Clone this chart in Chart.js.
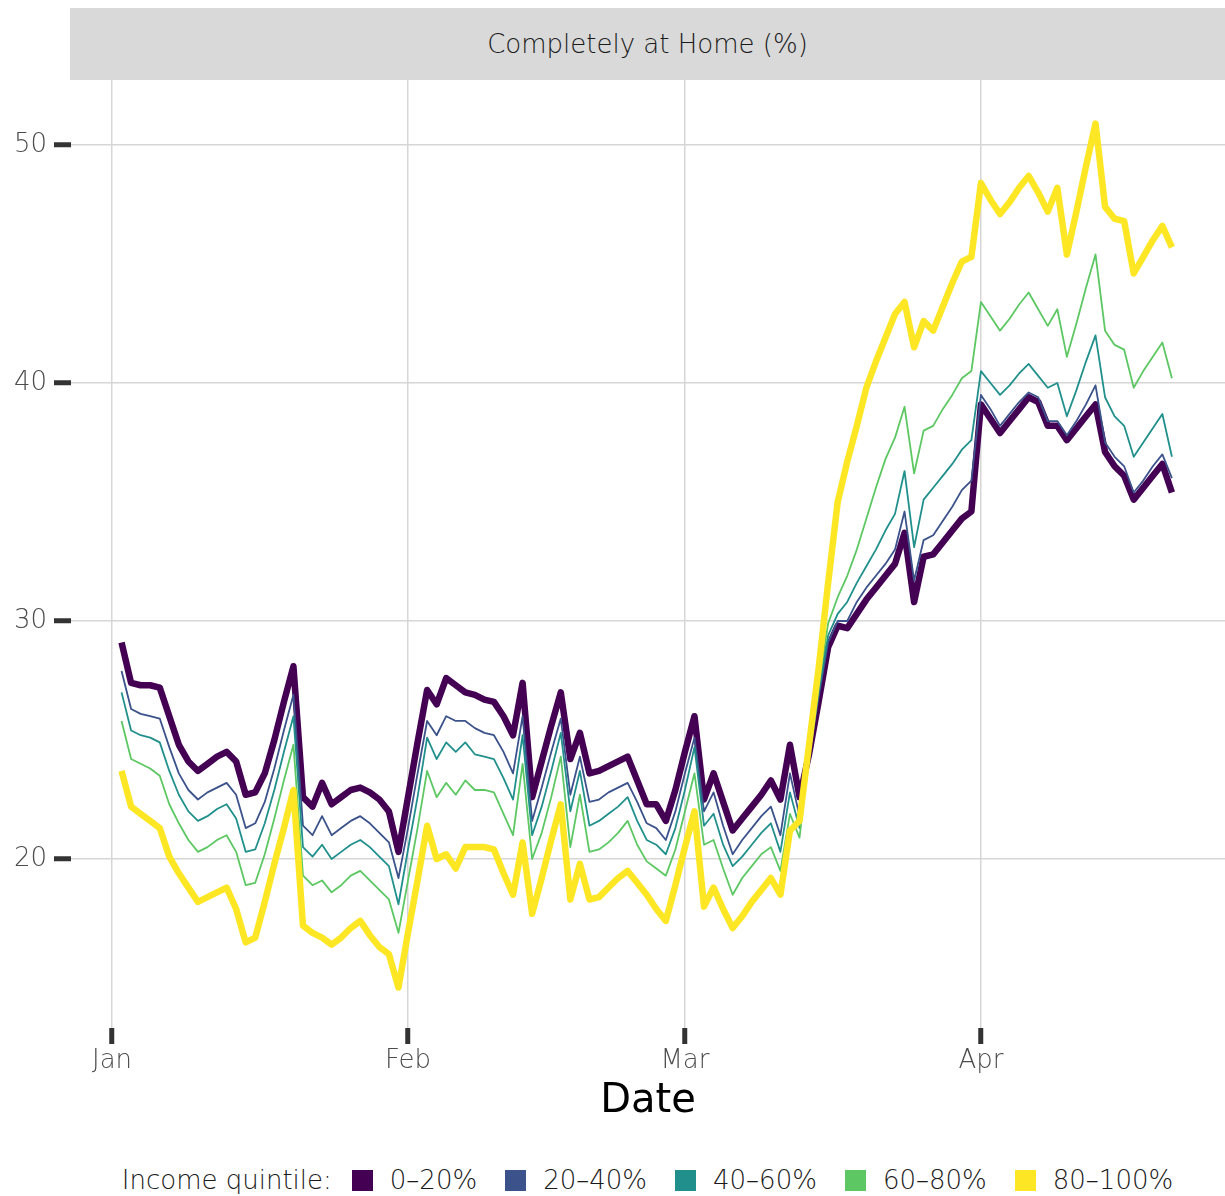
<!DOCTYPE html>
<html>
<head>
<meta charset="utf-8">
<title>Completely at Home (%)</title>
<script src="https://cdn.jsdelivr.net/npm/chart.js@4.4.0/dist/chart.umd.min.js"></script>
<style>
  body { margin: 0; width: 1225px; height: 1196px; background: #fff; position: relative; overflow: hidden;
         font-family: 'DejaVu Sans', sans-serif; }
  #strip { position: absolute; left: 70px; top: 8px; width: 1155px; height: 72px; background: #d9d9d9;
           color: #1a1a1a; font-size: 26px; font-weight: 300; line-height: 72px; text-align: center; }
  #wrap { position: absolute; left: 0; top: 80px; width: 1225px; height: 1050px; }
  #legend { position: absolute; left: 70px; top: 1164px; width: 1155px; height: 32px; display: flex;
            justify-content: center; align-items: center; font-size: 26px; font-weight: 300; color: #1a1a1a; }
  #legend .key { width: 21px; height: 21px; margin: 0 17px 0 0; }
  #legend .lab { margin-right: 28px; }
  #legend .lab:last-child { margin-right: 0; }
</style>
</head>
<body>
<div id="strip">Completely at Home (%)</div>
<div id="wrap"><canvas id="cHome" width="1225" height="1050"></canvas></div>
<div id="legend"></div>

<script>
// daily share of devices completely at home, 2020-01-02 .. 2020-04-21
const seriesNames = ['0–20%', '20–40%', '40–60%', '60–80%', '80–100%']
const seriesColors = ['#440154', '#3b528b', '#21908c', '#5dc863', '#fde725']
const monthLabels = ['Jan', 'Feb', 'Mar', 'Apr']
const monthStarts = [0, 31, 60, 91]   // day of year, 0 = Jan 1
const yTicks = [20, 30, 40, 50]
const firstDay = 1                    // Jan 2

const q1 = [
  29.1, 27.4, 27.3, 27.3, 27.2, 26.0, 24.8, 24.1, 23.7, 24.0,
  24.3, 24.5, 24.1, 22.7, 22.8, 23.6, 25.0, 26.6, 28.1, 22.6,
  22.2, 23.2, 22.3, 22.6, 22.9, 23.0, 22.8, 22.5, 22.0, 20.3,
  22.6, 24.9, 27.1, 26.5, 27.6, 27.3, 27.0, 26.9, 26.7, 26.6,
  26.0, 25.2, 27.4, 22.6, 24.1, 25.6, 27.0, 24.2, 25.3, 23.6,
  23.7, 23.9, 24.1, 24.3, 23.3, 22.3, 22.3, 21.6, 22.9, 24.5,
  26.0, 22.5, 23.6, 22.4, 21.2, 21.7, 22.2, 22.7, 23.3, 22.5,
  24.8, 22.6, 24.4, 26.6, 28.9, 29.8, 29.7, 30.3, 30.9, 31.4,
  31.9, 32.4, 33.7, 30.8, 32.7, 32.8, 33.3, 33.8, 34.3, 34.6,
  39.1, 38.5, 37.9, 38.4, 38.9, 39.4, 39.2, 38.2, 38.2, 37.6,
  38.1, 38.6, 39.1, 37.1, 36.5, 36.1, 35.1, 35.6, 36.1, 36.6, 35.4
]
const q2 = [
  27.9, 26.3, 26.1, 26.0, 25.9, 24.7, 23.6, 22.9, 22.5, 22.8,
  23.0, 23.2, 22.7, 21.3, 21.5, 22.4, 23.8, 25.4, 26.9, 21.4,
  21.0, 21.8, 21.0, 21.3, 21.6, 21.8, 21.5, 21.1, 20.7, 19.2,
  21.3, 23.6, 25.8, 25.2, 26.0, 25.8, 25.8, 25.5, 25.3, 25.2,
  24.5, 23.6, 26.0, 21.6, 23.0, 24.5, 25.9, 22.7, 24.3, 22.4,
  22.5, 22.8, 23.0, 23.2, 22.4, 21.5, 21.3, 20.8, 22.0, 23.6,
  25.1, 22.0, 22.8, 21.4, 20.2, 20.8, 21.3, 21.8, 22.2, 21.0,
  23.6, 21.8, 24.3, 26.8, 29.1, 30.0, 30.0, 30.8, 31.4, 31.9,
  32.4, 33.0, 34.6, 31.7, 33.4, 33.6, 34.2, 34.8, 35.5, 35.9,
  39.5, 38.9, 38.2, 38.7, 39.2, 39.6, 39.4, 38.4, 38.4, 37.8,
  38.4, 39.1, 39.9, 37.5, 36.9, 36.5, 35.4, 35.9, 36.5, 37.0, 36.0
]
const q3 = [
  27.0, 25.4, 25.2, 25.1, 24.9, 23.7, 22.7, 22.0, 21.6, 21.8,
  22.1, 22.3, 21.7, 20.3, 20.4, 21.5, 22.9, 24.5, 26.0, 20.5,
  20.1, 20.6, 20.0, 20.3, 20.6, 20.8, 20.5, 20.1, 19.7, 18.1,
  20.4, 22.6, 25.1, 24.2, 24.9, 24.5, 24.9, 24.4, 24.3, 24.2,
  23.4, 22.5, 25.2, 21.0, 22.2, 23.7, 25.3, 22.0, 23.7, 21.4,
  21.6, 21.9, 22.2, 22.6, 21.6, 20.8, 20.6, 20.2, 21.3, 22.9,
  24.7, 21.4, 21.9, 20.6, 19.7, 20.1, 20.6, 21.1, 21.5, 20.3,
  22.8, 21.3, 24.3, 27.0, 29.4, 30.3, 30.8, 31.6, 32.3, 33.0,
  33.8, 34.5, 36.3, 33.1, 35.1, 35.6, 36.1, 36.6, 37.2, 37.6,
  40.5, 40.0, 39.5, 39.9, 40.4, 40.8, 40.3, 39.8, 40.0, 38.6,
  39.7, 40.9, 42.0, 39.4, 38.6, 38.2, 36.9, 37.5, 38.1, 38.7, 36.9
]
const q4 = [
  25.8, 24.2, 24.0, 23.8, 23.5, 22.3, 21.5, 20.8, 20.3, 20.5,
  20.8, 21.0, 20.3, 18.9, 19.0, 20.2, 21.7, 23.3, 24.8, 19.3,
  18.9, 19.1, 18.6, 18.9, 19.3, 19.5, 19.1, 18.7, 18.3, 16.9,
  19.1, 21.3, 23.7, 22.6, 23.2, 22.7, 23.3, 22.9, 22.9, 22.8,
  21.9, 21.0, 24.0, 20.0, 21.1, 22.6, 24.3, 20.5, 22.7, 20.3,
  20.4, 20.7, 21.1, 21.6, 20.6, 19.9, 19.6, 19.3, 20.4, 22.0,
  23.6, 20.6, 20.8, 19.6, 18.5, 19.2, 19.7, 20.2, 20.5, 19.5,
  21.9, 20.9, 24.4, 27.3, 29.9, 31.0, 31.9, 33.0, 34.3, 35.6,
  36.8, 37.7, 39.0, 36.2, 38.0, 38.2, 38.9, 39.5, 40.2, 40.5,
  43.4, 42.8, 42.2, 42.7, 43.3, 43.8, 43.1, 42.4, 43.1, 41.1,
  42.5, 44.0, 45.4, 42.2, 41.6, 41.4, 39.8, 40.5, 41.1, 41.7, 40.2
]
const q5 = [
  23.7, 22.2, 21.9, 21.6, 21.3, 20.1, 19.4, 18.8, 18.2, 18.4,
  18.6, 18.8, 17.9, 16.5, 16.7, 18.2, 19.8, 21.3, 22.9, 17.2,
  16.9, 16.7, 16.4, 16.7, 17.1, 17.4, 16.8, 16.3, 16.0, 14.6,
  16.9, 19.1, 21.4, 20.0, 20.2, 19.6, 20.5, 20.5, 20.5, 20.4,
  19.4, 18.5, 20.7, 17.7, 19.2, 20.8, 22.3, 18.3, 19.8, 18.3,
  18.4, 18.8, 19.2, 19.5, 19.0, 18.5, 17.9, 17.4, 18.9, 20.5,
  22.0, 18.0, 18.8, 17.9, 17.1, 17.6, 18.2, 18.7, 19.2, 18.5,
  21.2, 21.6, 24.8, 28.0, 31.6, 35.0, 36.7, 38.2, 39.8, 40.9,
  41.9, 42.9, 43.4, 41.5, 42.6, 42.2, 43.2, 44.2, 45.1, 45.3,
  48.4, 47.7, 47.1, 47.6, 48.2, 48.7, 48.0, 47.2, 48.2, 45.4,
  47.2, 49.1, 50.9, 47.4, 46.9, 46.8, 44.6, 45.3, 46.0, 46.6, 45.7
]

const series = [q1, q2, q3, q4, q5]
const lineWidths = [6.5, 1.8, 1.8, 1.8, 6.5]
const drawOrder = [4, 3, 2, 1, 0]   // lower = on top, yellow last

const datasets = series.map((vals, i) => ({
  label: seriesNames[i],
  data: vals.map((v, k) => ({ x: firstDay + k, y: v })),
  borderColor: seriesColors[i],
  backgroundColor: seriesColors[i],
  borderWidth: lineWidths[i],
  order: drawOrder[i],
  pointRadius: 0,
  tension: 0,
  borderJoinStyle: 'round',
  fill: false
}))

const tickFont = { family: 'DejaVu Sans', size: 26, weight: 300 }

// kill the label-overflow padding so the plot area sits exactly where ggplot put it
const noPad = ax => { ax.paddingTop = 0; ax.paddingBottom = 0; ax.paddingLeft = 0; ax.paddingRight = 0 }

const cHome = new Chart(document.querySelector('#cHome'), {
  type: 'line',
  data: { datasets },
  options: {
    responsive: false,
    animation: false,
    layout: { padding: 0, autoPadding: false },
    plugins: { legend: { display: false }, tooltip: { enabled: false } },
    scales: {
      x: {
        type: 'linear',
        min: -4.294, max: 116.56,
        afterBuildTicks: ax => { ax.ticks = monthStarts.map(v => ({ value: v })) },
        afterFit: ax => { ax.height = 102; noPad(ax) },
        ticks: {
          autoSkip: false, maxRotation: 0, padding: 2,
          color: '#4d4d4d', font: tickFont,
          callback: v => monthLabels[monthStarts.indexOf(v)]
        },
        grid: { color: '#d6d6d6', lineWidth: 1.5, tickLength: 16, tickWidth: 5, tickColor: '#333333' },
        border: { display: false },
        title: { display: true, text: 'Date', color: '#000', padding: { top: 0, bottom: 4 },
                 font: { family: 'DejaVu Sans', size: 40 } }
      },
      y: {
        min: 12.9, max: 52.73,
        afterBuildTicks: ax => { ax.ticks = yTicks.map(v => ({ value: v })) },
        afterFit: ax => { ax.width = 71; noPad(ax) },
        ticks: { padding: 7, color: '#4d4d4d', font: tickFont },
        grid: { color: '#d6d6d6', lineWidth: 1.5, tickLength: 17, tickWidth: 5, tickColor: '#333333' },
        border: { display: false }
      }
    }
  }
})

// legend, ggplot style in one row
const legend = document.getElementById('legend')
const head = document.createElement('span')
head.className = 'lab'
head.style.marginRight = '20px'
head.innerText = 'Income quintile:'
legend.appendChild(head)
seriesNames.forEach((name, i) => {
  const key = document.createElement('span')
  key.className = 'key'
  key.style.background = seriesColors[i]
  legend.appendChild(key)
  const lab = document.createElement('span')
  lab.className = 'lab'
  lab.innerText = name
  legend.appendChild(lab)
})
</script>
</body>
</html>
